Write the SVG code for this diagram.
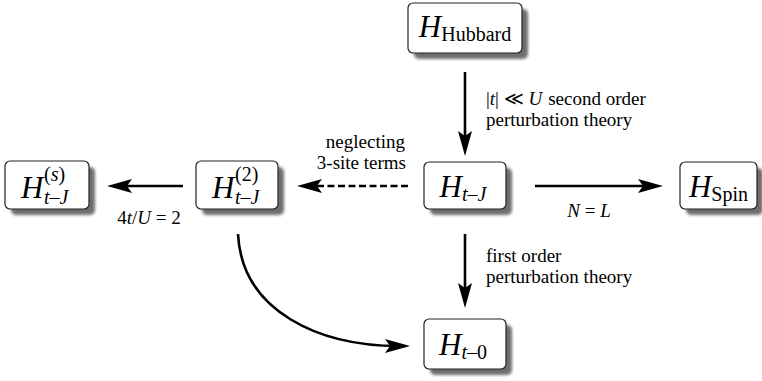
<svg xmlns="http://www.w3.org/2000/svg" width="762" height="381" viewBox="0 0 762 381">
  <style>
    .box { fill: #ffffff; stroke: #222222; stroke-width: 1.2; }
    .shadow { fill: #6e6e6e; filter: url(#soft); }
    .ham { font-family: "Liberation Serif", "Times New Roman", serif; fill: #000; }
    .big { font-size: 31px; font-style: italic; }
    .sub { font-size: 20px; }
    .it { font-style: italic; }
    .up { font-style: normal; }
    .lbl { font-family: "Liberation Serif", "Times New Roman", serif; font-size: 19px; fill: #000; }
    .conn { fill: none; stroke: #000; stroke-width: 2.6; }
    .dash { stroke-dasharray: 7 3.5; }
  </style>
  <defs>
    <filter id="soft" x="-20%" y="-20%" width="140%" height="140%">
      <feGaussianBlur stdDeviation="1.6"/>
    </filter>
    <marker id="head" markerUnits="userSpaceOnUse" markerWidth="26" markerHeight="16" refX="14" refY="7" orient="auto" viewBox="0 0 26 16">
      <path d="M0,0 L25,7 L0,14 L5,7 Z" fill="#000"/>
    </marker>
  </defs>

  <!-- Hubbard model -->
  <g id="hubbard">
    <rect class="shadow" x="414" y="9" width="114" height="50" rx="5"/>
    <rect class="box" x="408" y="3" width="114" height="50" rx="5"/>
    <text class="ham" x="465" y="37" text-anchor="middle"><tspan class="big">H</tspan><tspan class="sub" dy="4">Hubbard</tspan></text>
  </g>

  <!-- t-J model with superexchange -->
  <g id="hs">
    <rect class="shadow" x="11" y="167" width="84" height="48" rx="5"/>
    <rect class="box" x="5" y="161" width="84" height="48" rx="5"/>
    <text class="ham big" x="21" y="198">H</text>
    <text class="ham sub" x="44" y="181">(<tspan class="it">s</tspan>)</text>
    <text class="ham sub it" x="44" y="204">t–J</text>
  </g>

  <!-- second order t-J model -->
  <g id="h2">
    <rect class="shadow" x="202" y="167" width="82" height="48" rx="5"/>
    <rect class="box" x="196" y="161" width="82" height="48" rx="5"/>
    <text class="ham big" x="212" y="198">H</text>
    <text class="ham sub" x="235" y="181">(2)</text>
    <text class="ham sub it" x="235" y="204">t–J</text>
  </g>

  <!-- t-J model -->
  <g id="htj">
    <rect class="shadow" x="430" y="168" width="82" height="47" rx="5"/>
    <rect class="box" x="424" y="162" width="82" height="47" rx="5"/>
    <text class="ham" x="463" y="197" text-anchor="middle"><tspan class="big">H</tspan><tspan class="sub it" dy="4">t–J</tspan></text>
  </g>

  <!-- spin model -->
  <g id="hspin">
    <rect class="shadow" x="686" y="168" width="77" height="47" rx="5"/>
    <rect class="box" x="680" y="162" width="77" height="47" rx="5"/>
    <text class="ham" x="718.5" y="197" text-anchor="middle"><tspan class="big">H</tspan><tspan class="sub" dy="4">Spin</tspan></text>
  </g>

  <!-- t-0 model -->
  <g id="ht0">
    <rect class="shadow" x="430" y="325" width="82" height="50" rx="5"/>
    <rect class="box" x="424" y="319" width="82" height="50" rx="5"/>
    <text class="ham" x="463" y="355" text-anchor="middle"><tspan class="big">H</tspan><tspan class="sub it" dy="4">t–<tspan class="up">0</tspan></tspan></text>
  </g>

  <!-- connectors -->
  <g id="connectors">
    <line class="conn" x1="465" y1="72" x2="465" y2="145" marker-end="url(#head)"/>
    <line class="conn" x1="535" y1="186" x2="652" y2="186" marker-end="url(#head)"/>
    <line class="conn" x1="183" y1="186" x2="118" y2="186" marker-end="url(#head)"/>
    <line class="conn dash" x1="408" y1="186" x2="308" y2="186" marker-end="url(#head)"/>
    <line class="conn" x1="465" y1="234" x2="465" y2="297" marker-end="url(#head)"/>
    <path class="conn" d="M238,234 C242,312 320,346 399,346" marker-end="url(#head)"/>
  </g>

  <!-- connector labels -->
  <g id="labels">
    <text class="lbl" x="486" y="105">|<tspan class="it">t</tspan>| ≪ <tspan class="it">U</tspan><tspan dx="6">second order</tspan></text>
    <text class="lbl" x="486" y="126">perturbation theory</text>
    <text class="lbl" x="405" y="148" text-anchor="end">neglecting</text>
    <text class="lbl" x="406" y="169" text-anchor="end">3-site terms</text>
    <text class="lbl" x="149" y="224" text-anchor="middle">4<tspan class="it">t</tspan>/<tspan class="it">U</tspan> = 2</text>
    <text class="lbl" x="589" y="217" text-anchor="middle"><tspan class="it">N</tspan> = <tspan class="it">L</tspan></text>
    <text class="lbl" x="486" y="262">first order</text>
    <text class="lbl" x="486" y="283">perturbation theory</text>
  </g>
</svg>
